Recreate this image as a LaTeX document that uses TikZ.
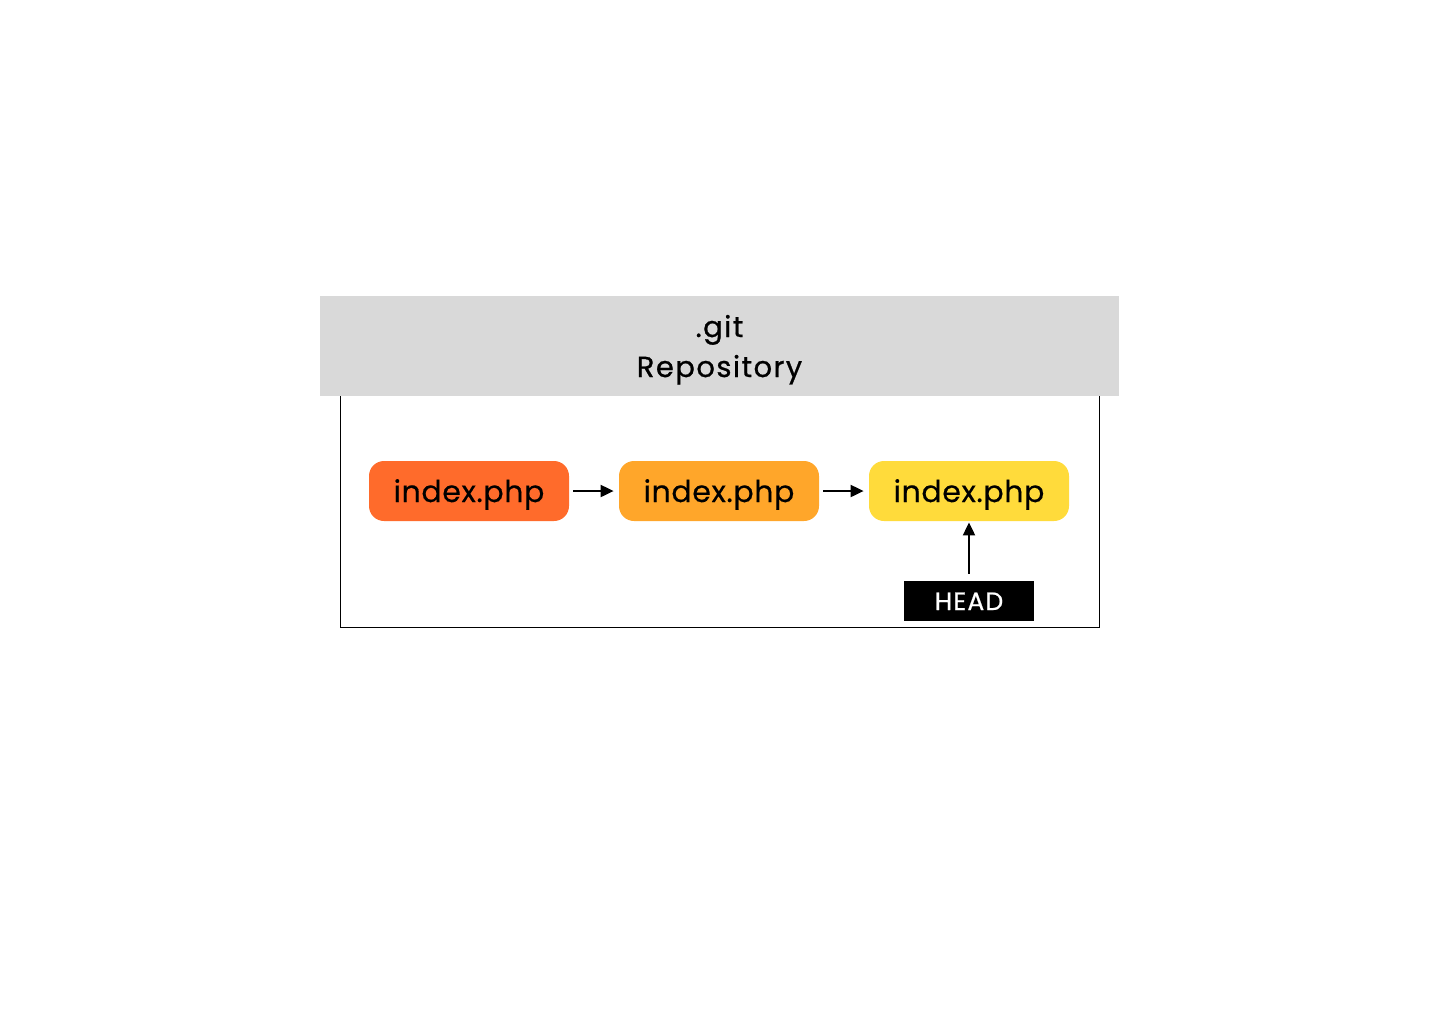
\documentclass[tikz,border=0pt]{standalone}
\usepackage{fontspec}
\setmainfont{Poppins}[FakeBold=0.4]
\newfontfamily\spacedfont{Poppins}[FakeBold=0.8,LetterSpace=5]
\usepackage{tikz}
\usetikzlibrary{arrows.meta}
\definecolor{repogray}{HTML}{D9D9D9}
\definecolor{verone}{HTML}{FF6B2B}
\definecolor{vertwo}{HTML}{FFA62A}
\definecolor{verthree}{HTML}{FFDB3B}

\tikzset{
  version/.style={rounded corners=7.5pt, minimum width=100pt, minimum height=30pt,
    inner sep=0pt, text height=11pt, text depth=0pt,
    font=\fontsize{15pt}{18pt}\selectfont\addfontfeatures{LetterSpace=2}},
  link/.style={-{Triangle[length=6.5pt,width=6pt]}, line width=1pt}
}

\begin{document}
\begin{tikzpicture}[x=0.5pt,y=-0.5pt]
  \useasboundingbox (0,0) rectangle (1440,1024);
  \node[draw, line width=0.5pt, minimum width=379.5pt, minimum height=118.5pt, inner sep=0pt] (frame) at (719.5,508.5) {};
  \node[fill=repogray, minimum width=399.5pt, minimum height=50pt, inner sep=0pt, align=center,
    text height=31pt, text depth=0pt,
    font=\spacedfont\fontsize{14.5pt}{20pt}\selectfont] (repo) at (719.5,346) {.git\\Repository};
  \node[version, fill=verone] (v1) at (469,491) {index.php};
  \node[version, fill=vertwo] (v2) at (719,491) {index.php};
  \node[version, fill=verthree] (v3) at (969,491) {index.php};
  \node[fill=black, text=white, minimum width=65pt, minimum height=20pt, inner sep=0pt,
    text height=9pt, text depth=0pt,
    font=\spacedfont\fontsize{12.5pt}{14pt}\selectfont] (head) at (969,601) {HEAD};
  \draw[link, shorten <=2pt, shorten >=2.5pt] (v1.east) to (v2.west);
  \draw[link, shorten <=2pt, shorten >=2.5pt] (v2.east) to (v3.west);
  \draw[link, shorten <=3.5pt, shorten >=0.5pt] (head.north) to (v3.south);
\end{tikzpicture}
\end{document}
